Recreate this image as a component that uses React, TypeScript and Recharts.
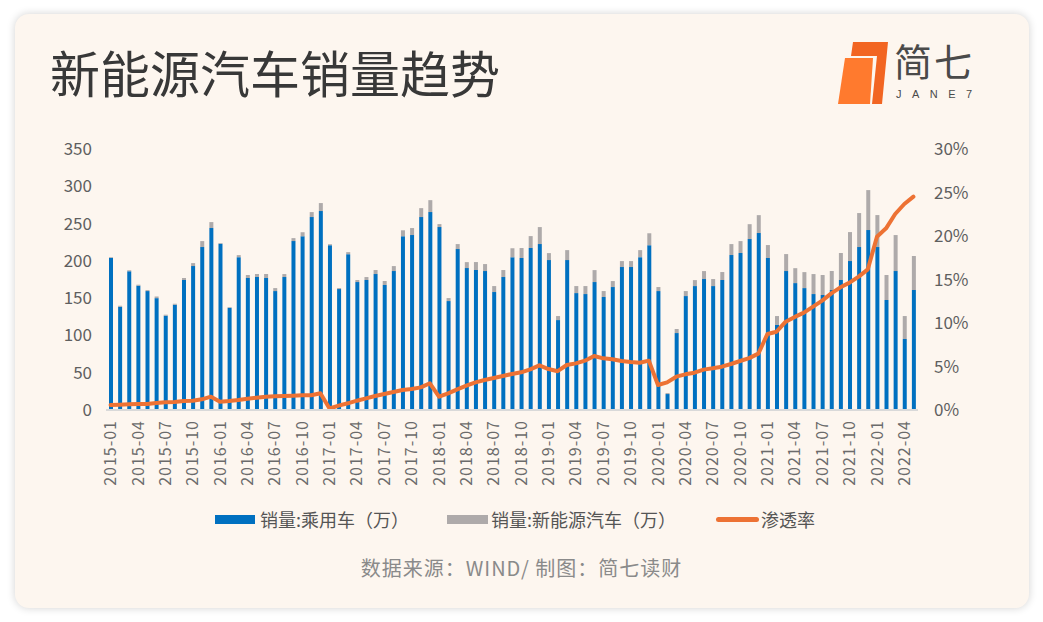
import React from 'react';
import { ComposedChart, Bar, Line, XAxis, YAxis } from 'recharts';

// 月份（2015-01 ~ 2022-05）
const months = [
  '2015-01', '2015-02', '2015-03', '2015-04', '2015-05', '2015-06', '2015-07', '2015-08', '2015-09', '2015-10', '2015-11', '2015-12',
  '2016-01', '2016-02', '2016-03', '2016-04', '2016-05', '2016-06', '2016-07', '2016-08', '2016-09', '2016-10', '2016-11', '2016-12',
  '2017-01', '2017-02', '2017-03', '2017-04', '2017-05', '2017-06', '2017-07', '2017-08', '2017-09', '2017-10', '2017-11', '2017-12',
  '2018-01', '2018-02', '2018-03', '2018-04', '2018-05', '2018-06', '2018-07', '2018-08', '2018-09', '2018-10', '2018-11', '2018-12',
  '2019-01', '2019-02', '2019-03', '2019-04', '2019-05', '2019-06', '2019-07', '2019-08', '2019-09', '2019-10', '2019-11', '2019-12',
  '2020-01', '2020-02', '2020-03', '2020-04', '2020-05', '2020-06', '2020-07', '2020-08', '2020-09', '2020-10', '2020-11', '2020-12',
  '2021-01', '2021-02', '2021-03', '2021-04', '2021-05', '2021-06', '2021-07', '2021-08', '2021-09', '2021-10', '2021-11', '2021-12',
  '2022-01', '2022-02', '2022-03', '2022-04', '2022-05',
];

// 销量:乘用车（万）
const passengerCars = [
  204, 138.5, 186, 166.7, 159.5, 150, 126.5, 141.2, 174.3, 193, 218.5, 244,
  223, 137, 205, 177, 178.3, 177, 159.5, 178.3, 226.5, 233, 258.7, 266.8,
  221, 162.2, 209, 171.6, 174.3, 182.3, 167.6, 186.3, 233, 234.6, 258.7, 265.4,
  245.3, 146.1, 215.8, 190.3, 187.7, 186.3, 158.2, 178.3, 205, 203.8, 217.2, 222.5,
  201, 120.6, 201, 156.8, 155.5, 171.6, 151.5, 164.9, 191.7, 191.7, 205, 221,
  159.5, 21.4, 103.2, 152.8, 166.2, 175.6, 166.2, 174.3, 207.8, 210.5, 229.2, 237.3,
  203.8, 114, 186.3, 170.2, 163.5, 155.5, 154.2, 160.9, 174.3, 199.7, 218.5, 241.3,
  218.5, 147.5, 186.3, 95.2, 160.9,
];

// 销量:新能源汽车（万）
const newEnergy = [
  0.9, 1.3, 1.3, 1.3, 1.3, 2.2, 1.3, 1.3, 2.7, 4, 8, 8,
  0.9, 0.9, 2.7, 4, 4, 5.4, 4, 4, 4, 5.4, 6.7, 10.7,
  1.3, 1.3, 2.7, 2.7, 4, 5.4, 5.4, 6.7, 8, 9.4, 12, 16,
  4, 4, 6.7, 8, 10.7, 9.4, 8, 9.4, 12, 13.4, 16, 22.8,
  9.4, 5.4, 13.4, 9.4, 10.7, 16, 8, 8, 8, 8, 9.4, 16,
  5.4, 1.3, 5.4, 6.7, 8, 10.7, 9.4, 10.7, 14.7, 16, 20, 24,
  17.4, 12, 22.8, 20, 21.4, 26.8, 26.8, 25.5, 36.2, 38.9, 45.6, 53.6,
  42.9, 33.5, 48.3, 30.8, 45.6,
];

// 渗透率（%）
const penetration = [
  0.57, 0.61, 0.65, 0.69, 0.69, 0.8, 0.88, 0.92, 1.03, 1.07, 1.23, 1.53,
  0.96, 1.03, 1.15, 1.3, 1.42, 1.53, 1.57, 1.61, 1.65, 1.69, 1.69, 1.92,
  0.17, 0.5, 0.77, 1.07, 1.34, 1.61, 1.84, 2.07, 2.3, 2.41, 2.6, 3.07,
  1.53, 1.92, 2.38, 2.8, 3.18, 3.45, 3.68, 3.91, 4.14, 4.33, 4.67, 5.13,
  4.71, 4.46, 5.17, 5.36, 5.67, 6.21, 5.94, 5.83, 5.63, 5.52, 5.44, 5.67,
  2.87, 3.18, 3.83, 4.1, 4.29, 4.64, 4.79, 4.98, 5.29, 5.63, 5.96, 6.48,
  8.74, 9.0, 10.15, 10.7, 11.19, 11.88, 12.57, 13.41, 14.1, 14.64, 15.33, 16.17,
  19.92, 20.88, 22.53, 23.68, 24.52,
];

const leftTicks = [0, 50, 100, 150, 200, 250, 300, 350];
const rightTicks = [0, 5, 10, 15, 20, 25, 30];

const BLUE = '#0070C0';
const GRAY = '#AEAAAA';
const ORANGE = '#ED7234';
const FONT = '"Noto Sans CJK SC", "Noto Sans", sans-serif';

const data = months.map((month, i) => ({
  month,
  car: passengerCars[i],
  nev: newEnergy[i],
  rate: penetration[i],
}));

const MonthTick = (props: any) => {
  const { x, y, payload } = props;
  return (
    <text
      x={x}
      y={y}
      dy="0.35em"
      textAnchor="end"
      transform={`rotate(-90, ${x}, ${y})`}
      fill="#6b6b6b"
      fontSize={16}
      letterSpacing={1}
      fontFamily={FONT}
    >
      {payload.value}
    </text>
  );
};

const legendText: React.CSSProperties = {
  position: 'absolute',
  top: 506,
  fontSize: 18,
  lineHeight: '26px',
  color: '#555',
  whiteSpace: 'nowrap',
};

const App: React.FC = () => {
  return (
    <div
      style={{
        position: 'fixed',
        left: 0,
        top: 0,
        width: 1043,
        height: 622,
        background: '#fff',
        fontFamily: FONT,
        overflow: 'hidden',
      }}
    >
      {/* card */}
      <div
        style={{
          position: 'absolute',
          left: 15,
          top: 14,
          width: 1014,
          height: 594,
          borderRadius: 14,
          background: '#FDF6EF',
          boxShadow: '0 0 8px rgba(0,0,0,0.18)',
        }}
      />

      {/* title */}
      <div
        style={{
          position: 'absolute',
          left: 50,
          top: 46,
          fontSize: 50,
          lineHeight: '50px',
          color: '#383838',
          whiteSpace: 'nowrap',
        }}
      >
        新能源汽车销量趋势
      </div>

      {/* logo */}
      <svg style={{ position: 'absolute', left: 830, top: 36 }} width={70} height={74}>
        <polygon points="23,6 58,6 52,68 42,68 47,20 21,20" fill="#F26522" />
        <polygon points="15,22 43,22 40,68 8,68" fill="#FF7A2E" />
      </svg>
      <div
        style={{
          position: 'absolute',
          left: 894,
          top: 39,
          fontSize: 38,
          lineHeight: '42px',
          letterSpacing: 2,
          color: '#4a4a4a',
          whiteSpace: 'nowrap',
        }}
      >
        简七
      </div>
      <div
        style={{
          position: 'absolute',
          left: 896,
          top: 88,
          fontSize: 11,
          lineHeight: '13px',
          letterSpacing: 10.5,
          color: '#4a4a4a',
          fontFamily: '"Liberation Sans", sans-serif',
          whiteSpace: 'nowrap',
        }}
      >
        JANE7
      </div>

      <div style={{ position: 'absolute', left: 0, top: 0 }}>
        <ComposedChart
          width={1043}
          height={622}
          data={data}
          margin={{ top: 149, right: 65, bottom: 132, left: 46 }}
          barSize={4}
        >
          <XAxis
            dataKey="month"
            interval={2}
            height={80}
            tickSize={0}
            tickMargin={10}
            tickLine={false}
            axisLine={{ stroke: '#D9D9D9', strokeWidth: 2 }}
            tick={<MonthTick />}
          />
          <YAxis
            yAxisId="left"
            width={60}
            domain={[0, 350]}
            ticks={leftTicks}
            axisLine={false}
            tickLine={false}
            tickSize={0}
            tickMargin={14}
            tick={{ fill: '#5f5f5f', fontSize: 17 }}
          />
          <YAxis
            yAxisId="right"
            orientation="right"
            width={60}
            domain={[0, 30]}
            ticks={rightTicks}
            axisLine={false}
            tickLine={false}
            tickSize={0}
            tickMargin={16}
            tickFormatter={(v: number) => `${v}%`}
            tick={{ fill: '#5f5f5f', fontSize: 17 }}
          />
          <Bar yAxisId="left" dataKey="car" stackId="sales" fill={BLUE} isAnimationActive={false} />
          <Bar yAxisId="left" dataKey="nev" stackId="sales" fill={GRAY} isAnimationActive={false} />
          <Line
            yAxisId="right"
            type="linear"
            dataKey="rate"
            stroke={ORANGE}
            strokeWidth={4}
            strokeLinejoin="round"
            strokeLinecap="round"
            dot={false}
            activeDot={false}
            isAnimationActive={false}
          />
        </ComposedChart>
      </div>

      {/* legend */}
      <div style={{ position: 'absolute', left: 215, top: 515, width: 40, height: 9, background: BLUE }} />
      <div style={{ ...legendText, left: 260 }}>销量:乘用车（万）</div>
      <div style={{ position: 'absolute', left: 447, top: 515, width: 41, height: 9, background: GRAY }} />
      <div style={{ ...legendText, left: 491 }}>销量:新能源汽车（万）</div>
      <div
        style={{
          position: 'absolute',
          left: 716,
          top: 517,
          width: 43,
          height: 5,
          borderRadius: 3,
          background: ORANGE,
        }}
      />
      <div style={{ ...legendText, left: 761 }}>渗透率</div>

      {/* source */}
      <div
        style={{
          position: 'absolute',
          left: 0,
          width: 1043,
          top: 554,
          textAlign: 'center',
          fontSize: 20,
          lineHeight: '28px',
          letterSpacing: 1,
          color: '#8a8a8a',
          whiteSpace: 'nowrap',
        }}
      >
        数据来源：WIND/ 制图：简七读财
      </div>
    </div>
  );
};

export default App;
